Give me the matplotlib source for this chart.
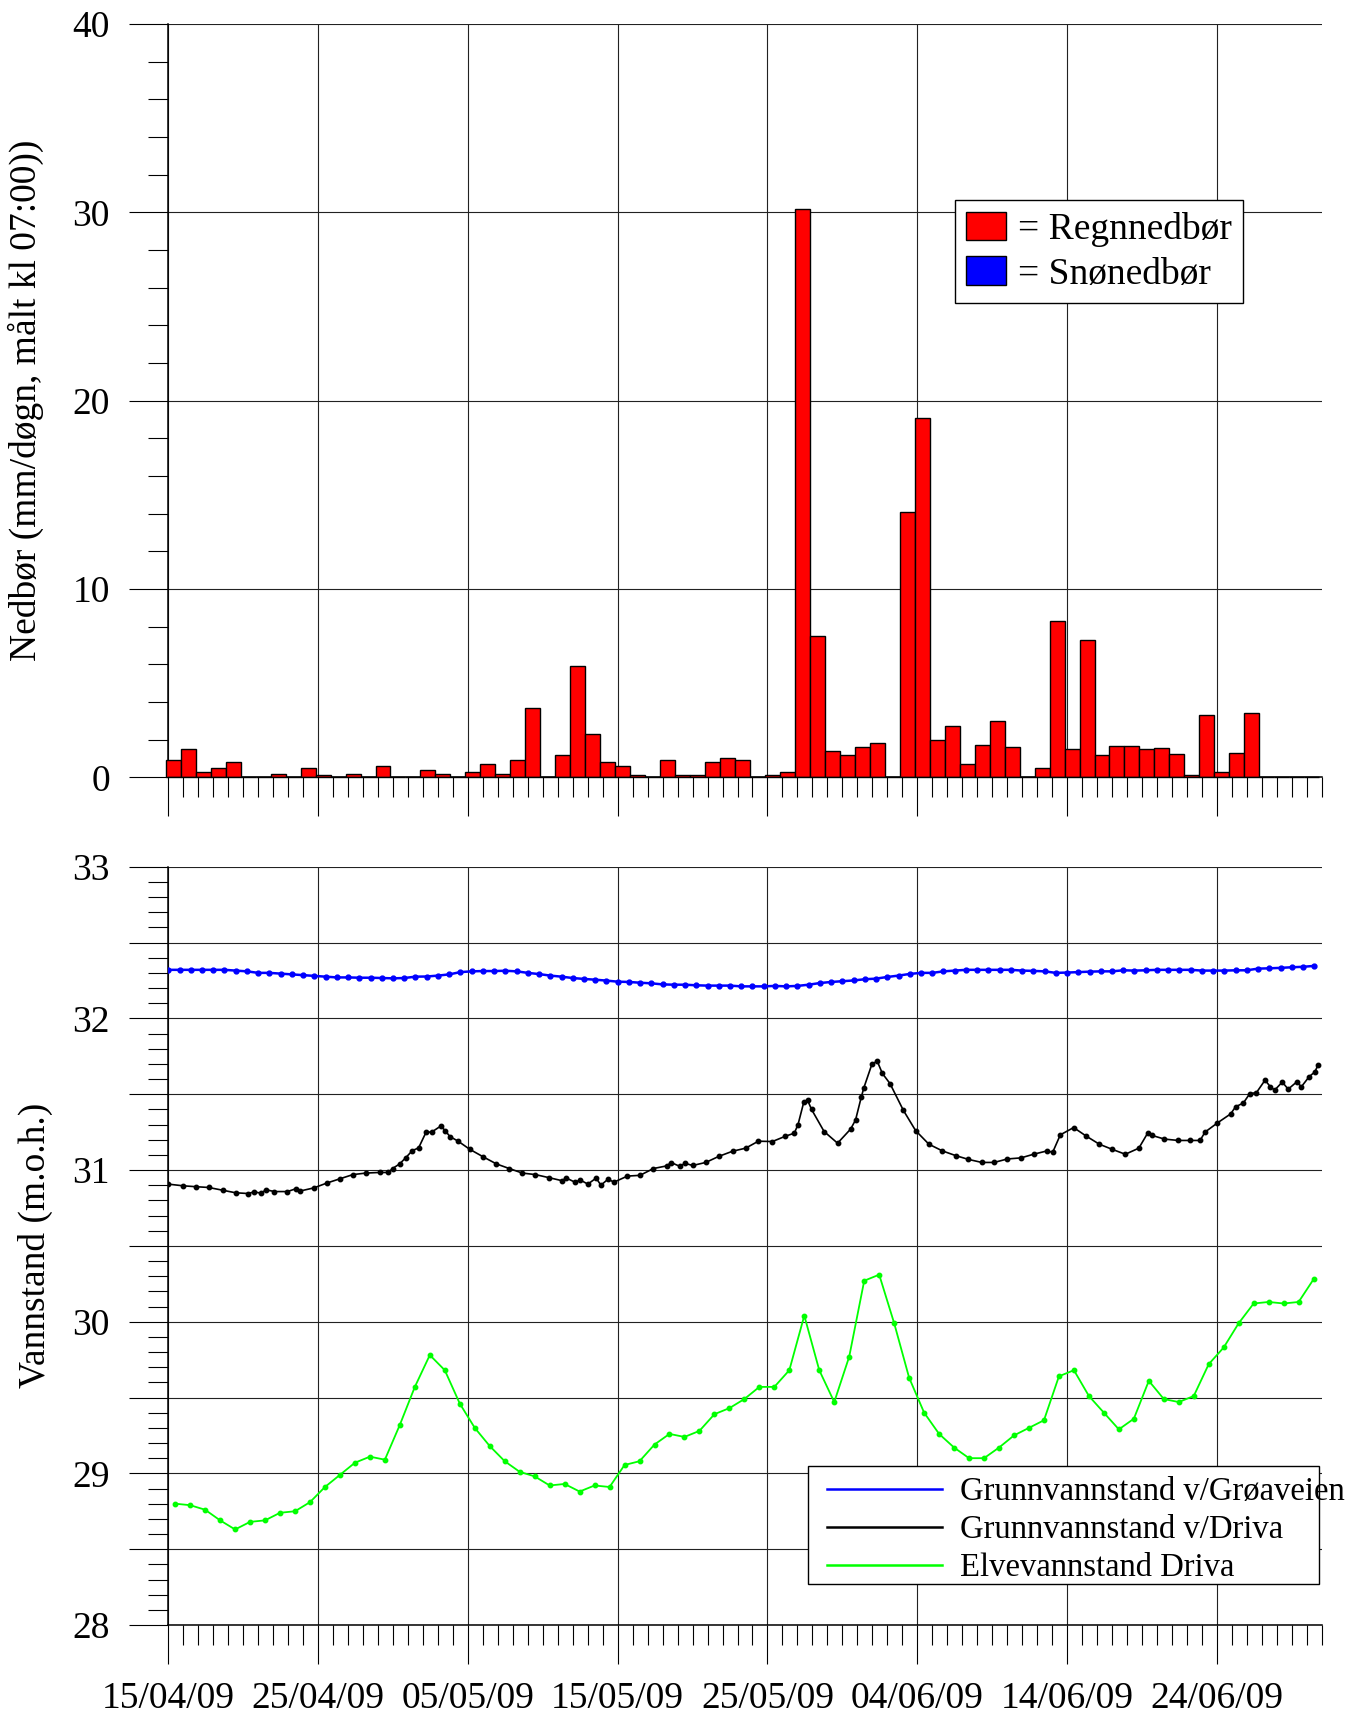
import numpy as np
import pandas as pd
import matplotlib
matplotlib.use("Agg")
import matplotlib.pyplot as plt
import matplotlib.dates as mdates
from matplotlib.ticker import MultipleLocator, FuncFormatter
from matplotlib.patches import Rectangle, Patch
from matplotlib.lines import Line2D

plt.rcParams['font.family'] = ['Liberation Serif', 'DejaVu Serif']
plt.rcParams['font.size'] = 27

# ---- data ----
start = pd.Timestamp('2009-04-15')
end = pd.Timestamp('2009-07-01')
tick_labels = ['15/04/09', '25/04/09', '05/05/09', '15/05/09',
               '25/05/09', '04/06/09', '14/06/09', '24/06/09']

# daily precipitation (mm), one bar per day from 15/04
rain = [0.9, 1.5, 0.3, 0.5, 0.8, 0, 0, 0.2, 0, 0.5,
        0.1, 0, 0.2, 0, 0.6, 0, 0, 0.4, 0.2, 0,
        0.3, 0.7, 0.2, 0.9, 3.7, 0, 1.2, 5.9, 2.3, 0.8,
        0.6, 0.1, 0, 0.9, 0.1, 0.1, 0.8, 1.0, 0.9, 0,
        0.1, 0.3, 30.2, 7.5, 1.4, 1.2, 1.6, 1.8, 0, 14.1,
        19.1, 2.0, 2.7, 0.7, 1.7, 3.0, 1.6, 0, 0.5, 8.3,
        1.5, 7.3, 1.2, 1.65, 1.65, 1.5, 1.55, 1.25, 0.1, 3.3,
        0.3, 1.3, 3.4, 0, 0, 0, 0]
snow = [0] * len(rain)

# Grunnvannstand v/Grøaveien, logged every 18 h from 15/04
groa = [32.32, 32.32, 32.32, 32.32, 32.32, 32.32, 32.315, 32.31, 32.30, 32.30,
        32.295, 32.29, 32.285, 32.28, 32.275, 32.27, 32.27, 32.268, 32.268, 32.266,
        32.264, 32.266, 32.275, 32.276, 32.282, 32.29, 32.305, 32.31, 32.312, 32.312,
        32.314, 32.31, 32.30, 32.292, 32.282, 32.275, 32.266, 32.26, 32.255, 32.249,
        32.242, 32.24, 32.235, 32.231, 32.224, 32.222, 32.222, 32.218, 32.216, 32.216,
        32.216, 32.211, 32.211, 32.211,
        32.214, 32.211, 32.214, 32.222, 32.233, 32.24, 32.245, 32.25, 32.258, 32.262,
        32.273, 32.282, 32.293, 32.30, 32.30, 32.31, 32.315, 32.32, 32.32, 32.32,
        32.32, 32.32, 32.315, 32.313, 32.31, 32.30, 32.302, 32.305, 32.308, 32.31,
        32.31, 32.317, 32.315, 32.317, 32.32, 32.32, 32.32, 32.32, 32.315, 32.315,
        32.315, 32.317, 32.317, 32.328, 32.33, 32.333, 32.337, 32.34, 32.346]

# Grunnvannstand v/Driva: (days after 15/04, level)
driva_days = [0.0, 0.98, 1.85, 2.69, 3.62, 4.49, 5.33, 5.73, 6.20, 6.52,
              7.08, 7.95, 8.50, 8.82, 9.71, 10.61, 11.48, 12.33, 13.20, 14.10,
              14.70, 14.97, 15.44, 15.84, 16.29, 16.71, 17.21, 17.58, 18.19, 18.48,
              18.80, 19.35, 20.12, 21.04, 21.91, 22.76, 23.63, 24.50, 25.40, 26.27,
              26.58, 27.14, 27.51, 28.01, 28.56, 28.88, 29.36, 29.75, 30.65, 31.49,
              32.39, 33.26, 33.58, 34.13, 34.50, 35.01, 35.88, 36.75, 37.67, 38.54,
              39.39, 40.33, 41.20, 41.79, 42.04, 42.43, 42.68, 42.94, 43.78, 44.68,
              45.55, 45.88, 46.26, 46.44, 46.98, 47.33, 47.67, 48.18, 49.07, 49.89,
              50.78, 51.68, 52.57, 53.42, 54.31, 55.13, 56.02, 56.92, 57.76, 58.66,
              59.04, 59.55, 60.44, 61.29, 62.16, 63.00, 63.89, 64.79, 65.38, 65.68,
              66.50, 67.42, 68.24, 68.88, 69.21, 70.03, 70.92, 71.25, 71.77, 72.20,
              72.64, 73.22, 73.56, 73.86, 74.37, 74.76, 75.32, 75.65, 76.16, 76.55,
              76.75]
driva = [30.907, 30.896, 30.89, 30.885, 30.867, 30.85, 30.845, 30.856, 30.847, 30.87,
         30.858, 30.858, 30.876, 30.862, 30.882, 30.915, 30.943, 30.97, 30.98, 30.984,
         30.984, 31.01, 31.04, 31.08, 31.128, 31.146, 31.25, 31.25, 31.29, 31.26,
         31.221, 31.19, 31.137, 31.086, 31.04, 31.01, 30.98, 30.97, 30.95, 30.93,
         30.947, 30.92, 30.934, 30.907, 30.947, 30.90, 30.94, 30.92, 30.96, 30.965,
         31.01, 31.027, 31.049, 31.025, 31.044, 31.03, 31.05, 31.09, 31.124, 31.144,
         31.19, 31.188, 31.223, 31.243, 31.30, 31.45, 31.46, 31.40, 31.254, 31.177,
         31.27, 31.33, 31.48, 31.544, 31.70, 31.717, 31.637, 31.57, 31.394, 31.26,
         31.17, 31.126, 31.095, 31.07, 31.05, 31.05, 31.073, 31.08, 31.104, 31.126,
         31.117, 31.232, 31.28, 31.223, 31.17, 31.137, 31.104, 31.144, 31.243, 31.228,
         31.204, 31.195, 31.195, 31.195, 31.25, 31.31, 31.37, 31.417, 31.442, 31.504,
         31.51, 31.593, 31.55, 31.527, 31.58, 31.533, 31.58, 31.55, 31.615, 31.648,
         31.692]

# Elvevannstand Driva, daily at ~11:00 from 15/04
elv = [28.80, 28.79, 28.76, 28.69, 28.63, 28.68, 28.69, 28.74, 28.75, 28.81,
       28.91, 28.99, 29.07, 29.11, 29.09, 29.32, 29.57, 29.78, 29.68, 29.46,
       29.30, 29.18, 29.08, 29.01, 28.98, 28.92, 28.93, 28.88, 28.92, 28.91,
       29.055, 29.08, 29.19, 29.26, 29.24, 29.28, 29.39, 29.43, 29.49, 29.57,
       29.57, 29.68, 30.04, 29.68, 29.47, 29.77, 30.27, 30.31, 29.99, 29.63,
       29.40, 29.26, 29.17, 29.10, 29.10, 29.17, 29.25, 29.30, 29.35, 29.64,
       29.68, 29.51, 29.40, 29.29, 29.36, 29.61, 29.49, 29.47, 29.51, 29.72,
       29.83, 29.99, 30.12, 30.13, 30.12, 30.13, 30.28]

rain_t = pd.date_range('2009-04-14 20:00', periods=len(rain), freq='D')
groa_t = pd.date_range('2009-04-15 00:00', periods=len(groa), freq='18h')
driva_t = start + pd.to_timedelta(driva_days, unit='D')
elv_t = pd.date_range('2009-04-15 11:00', periods=len(elv), freq='D')
major_dates = [pd.Timestamp('2009-%s-%s' % (s[3:5], s[0:2])) for s in tick_labels]

fig = plt.figure(figsize=(13.5, 17.2), dpi=100)
fig.patch.set_facecolor('white')
ax1 = fig.add_axes([0.12467, 0.54808, 0.85437, 0.43797])
ax2 = fig.add_axes([0.12467, 0.05523, 0.85437, 0.44087])


def style_axis(ax):
    for s in ['top', 'right']:
        ax.spines[s].set_visible(False)
    for s in ['left', 'bottom']:
        ax.spines[s].set_linewidth(1.1)
    ax.set_xlim(start, end)
    ax.set_xticks(major_dates)
    ax.set_xticklabels(tick_labels)
    ax.xaxis.set_minor_locator(mdates.DayLocator())
    ax.tick_params(which='major', length=28, width=0.8, direction='out')
    ax.tick_params(which='minor', length=14.4, width=0.8, direction='out')
    ax.tick_params(axis='y', which='major', pad=14)
    ax.tick_params(axis='x', which='major', pad=13)
    ax.grid(True, which='major', color='#222222', linewidth=0.8)
    ax.set_axisbelow(True)


# ---- top: precipitation ----
style_axis(ax1)
ax1.bar(rain_t, rain, width=1.0, align='edge', color='#ff0000',
        edgecolor='black', linewidth=1.0, clip_on=False, zorder=3)
ax1.bar(rain_t, snow, width=1.0, align='edge', color='#0000ff',
        edgecolor='black', linewidth=1.0, zorder=3)
ax1.set_ylim(0, 40)
ax1.yaxis.set_major_locator(MultipleLocator(10))
ax1.yaxis.set_minor_locator(MultipleLocator(2))
ax1.tick_params(axis='x', labelbottom=False)
ax1.set_ylabel('Nedbør (mm/døgn, målt kl 07:00))', va='center')
ax1.yaxis.set_label_coords(-0.1234, 0.5)

leg1 = ax1.legend(handles=[Patch(facecolor='#ff0000', edgecolor='black'),
                           Patch(facecolor='#0000ff', edgecolor='black')],
                  labels=['= Regnnedbør', '= Snønedbør'],
                  loc='upper left', bbox_to_anchor=(0.682, 0.766),
                  borderaxespad=0, borderpad=0.3, labelspacing=0.25,
                  handlelength=1.07, handleheight=0.8, handletextpad=0.3,
                  fancybox=False, edgecolor='black', framealpha=1)
leg1.get_frame().set_linewidth(1.0)

# ---- bottom: water levels ----
style_axis(ax2)
ax2.plot(groa_t, groa, color='#0000ff', lw=1.8, marker='o', ms=3.5, zorder=3)
ax2.plot(driva_t, driva, color='black', lw=1.2, marker='o', ms=3.2, zorder=3)
ax2.plot(elv_t, elv, color='#00ff00', lw=1.3, marker='o', ms=3.2, zorder=3)
ax2.set_ylim(28, 33)
ax2.yaxis.set_major_locator(MultipleLocator(0.5))
ax2.yaxis.set_minor_locator(MultipleLocator(0.1))
ax2.yaxis.set_major_formatter(FuncFormatter(
    lambda v, p: '%d' % round(v) if abs(v - round(v)) < 1e-6 else ''))
ax2.set_ylabel('Vannstand (m.o.h.)', va='center')
ax2.yaxis.set_label_coords(-0.1156, 0.5)

# legend box drawn separately: the long label runs past the frame
ax2.add_patch(Rectangle((0.555, 0.054), 0.443, 0.1556, transform=ax2.transAxes,
                        facecolor='white', edgecolor='black', lw=1.0, zorder=5))
leg2 = ax2.legend(handles=[Line2D([], [], color='#0000ff', lw=1.8),
                           Line2D([], [], color='black', lw=1.8),
                           Line2D([], [], color='#00ff00', lw=1.8)],
                  labels=['Grunnvannstand v/Grøaveien', 'Grunnvannstand v/Driva',
                          'Elvevannstand Driva'],
                  loc='upper left', bbox_to_anchor=(0.5707, 0.1952),
                  borderaxespad=0, borderpad=0, labelspacing=0.23,
                  handlelength=3.53, handletextpad=0.56, frameon=False,
                  fontsize=23.5)
leg2.set_zorder(6)

fig.savefig('out.png', dpi=100, facecolor='white')
